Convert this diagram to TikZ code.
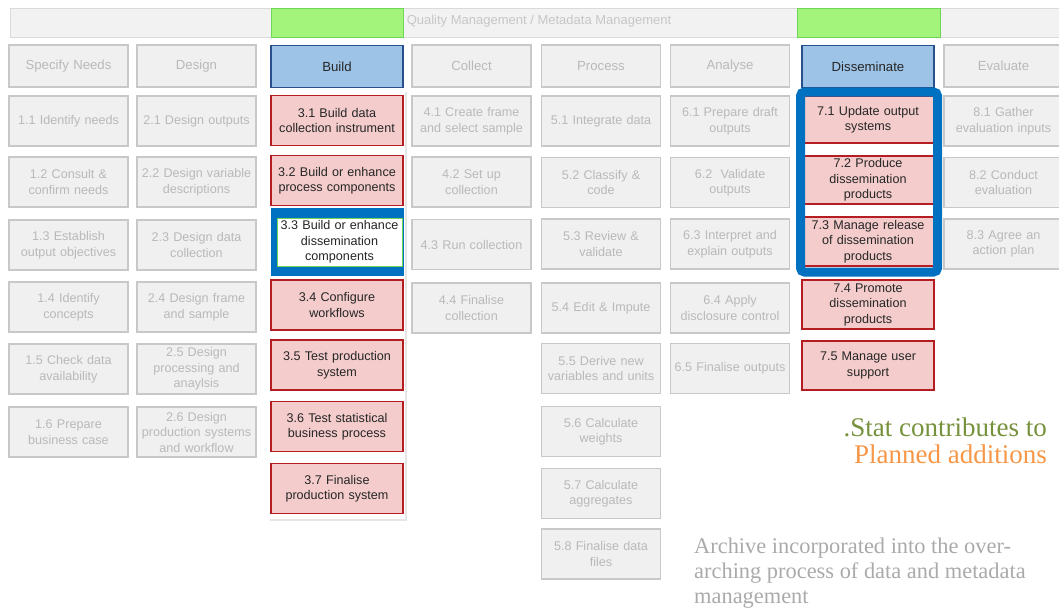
\documentclass[tikz,border=0pt]{standalone}
\usepackage{fontspec}
\setmainfont{Liberation Serif}
\setsansfont{Liberation Sans}
\usetikzlibrary{positioning}
\definecolor{boxfill}{RGB}{240,240,240}
\definecolor{boxline}{RGB}{200,200,198}
\definecolor{boxtext}{RGB}{185,185,185}
\definecolor{hdfill}{RGB}{157,195,230}
\definecolor{hdline}{RGB}{40,80,140}
\definecolor{pkfill}{RGB}{244,204,204}
\definecolor{pkline}{RGB}{180,30,35}
\definecolor{stblue}{RGB}{0,112,192}
\definecolor{bandfill}{RGB}{242,242,242}
\definecolor{bandline}{RGB}{218,218,218}
\definecolor{bandgreen}{RGB}{162,245,122}
\definecolor{bandgreenl}{RGB}{110,215,90}
\definecolor{dotgreen}{RGB}{118,146,60}
\definecolor{planorange}{RGB}{247,150,70}
\definecolor{archgray}{RGB}{170,170,170}
\tikzset{
    gbox/.style = {rectangle, line width=1.6pt, draw=boxline, fill=boxfill, text=boxtext, minimum width=119pt, minimum height=50pt, text width=118pt, align=center, inner sep=0pt, font=\sffamily\fontsize{12.6}{15.5}\selectfont},
    ghead/.style = {gbox, minimum height=42pt, font=\sffamily\fontsize{13.2}{15.5}\selectfont},
    bhead/.style = {ghead, draw=hdline, fill=hdfill, text=black!85, minimum width=132pt, text width=130pt},
    pbox/.style = {gbox, draw=pkline, fill=pkfill, text=black!85, minimum width=132pt, text width=130pt},
    hlbox/.style = {rectangle, fill=stblue, minimum width=133pt, minimum height=68pt, inner sep=0pt},
    wbox/.style = {gbox, draw=bandgreenl, line width=0.8pt, fill=white, text=black!85, minimum width=125pt, minimum height=48pt, text width=125pt},
    frame/.style = {rectangle, draw=stblue, line width=9pt, rounded corners=4pt, minimum width=137pt, minimum height=180pt, inner sep=0pt},
    band/.style = {rectangle, draw=bandline, line width=0.8pt, fill=bandfill, minimum width=1052pt, minimum height=29pt},
    bandg/.style = {rectangle, draw=bandgreenl, line width=0.6pt, fill=bandgreen, minimum height=29pt, inner sep=0pt},
    panelshade/.style = {draw=black!10, line width=1.5pt},
    note/.style = {inner sep=0pt, font=\fontsize{27}{29}\selectfont},
}

\begin{document}
\begin{tikzpicture}[x=1pt,y=-1pt]
\useasboundingbox (0,0) rectangle (1059,610);
%
\node[band] at (536,22.5) (qband) {};
\node[text=black!22, font=\sffamily\fontsize{13}{15}\selectfont] at (539,21) (qtext) {Quality Management / Metadata Management};
\node[bandg, minimum width=132pt] at (337,22.5) (qbuild) {};
\node[bandg, minimum width=143pt] at (868.5,22.5) (qdiss) {};
%
\draw[panelshade] (406,92) -- (406,520) -- (270,520);
%
\node[ghead] at (68.5, 66) (h1) {Specify Needs};
\node[ghead] at (196.5, 66) (h2) {Design};
\node[bhead] at (337, 66.5) (h3) {Build};
\node[ghead] at (471.5, 66) (h4) {Collect};
\node[ghead] at (601, 66) (h5) {Process};
\node[ghead] at (730, 66) (h6) {Analyse};
\node[bhead] at (868, 66.5) (h7) {Disseminate};
\node[ghead] at (1003.5, 66) (h8) {Evaluate};
%
\node[gbox] at (68.5, 121) (s11) {1.1 Identify needs};
\node[gbox] at (68.5, 182) (s12) {1.2 Consult \&\\confirm needs};
\node[gbox] at (68.5, 245) (s13) {1.3 Establish\\output objectives};
\node[gbox] at (68.5, 307) (s14) {1.4 Identify\\concepts};
\node[gbox] at (68.5, 369) (s15) {1.5 Check data\\availability};
\node[gbox] at (68.5, 432) (s16) {1.6 Prepare\\business case};
%
\node[gbox] at (196.5, 121) (s21) {2.1 Design outputs};
\node[gbox] at (196.5, 182) (s22) {2.2 Design variable\\descriptions};
\node[gbox] at (196.5, 245) (s23) {2.3 Design data\\collection};
\node[gbox] at (196.5, 307) (s24) {2.4 Design frame\\and sample};
\node[gbox] at (196.5, 369) (s25) {2.5 Design\\processing and\\anaylsis};
\node[gbox] at (196.5, 432) (s26) {2.6 Design\\production systems\\and workflow};
%
\node[pbox] at (337, 120.5) (s31) {3.1 Build data\\collection instrument};
\node[pbox] at (337, 180.5) (s32) {3.2 Build or enhance\\process components};
\node[hlbox] at (337.5, 242) (hl33) {};
\node[wbox] at (339.5, 242) (s33) {3.3 Build or enhance\\dissemination\\components};
\node[pbox] at (337, 305) (s34) {3.4 Configure\\workflows};
\node[pbox] at (337, 365) (s35) {3.5 Test production\\system};
\node[pbox] at (337, 426.5) (s36) {3.6 Test statistical\\business process};
\node[pbox] at (337, 488.5) (s37) {3.7 Finalise\\production system};
%
\node[gbox] at (471.5, 121) (s41) {4.1 Create frame\\and select sample};
\node[gbox] at (471.5, 182) (s42) {4.2 Set up\\collection};
\node[gbox] at (471.5, 244.5) (s43) {4.3 Run collection};
\node[gbox] at (471.5, 308) (s44) {4.4 Finalise\\collection};
%
\node[gbox] at (601, 121) (s51) {5.1 Integrate data};
\node[gbox] at (601, 182.5) (s52) {5.2 Classify \&\\code};
\node[gbox] at (601, 244) (s53) {5.3 Review \&\\validate};
\node[gbox] at (601, 308) (s54) {5.4 Edit \& Impute};
\node[gbox] at (601, 368.5) (s55) {5.5 Derive new\\variables and units};
\node[gbox] at (601, 431.5) (s56) {5.6 Calculate\\weights};
\node[gbox] at (601, 493.5) (s57) {5.7 Calculate\\aggregates};
\node[gbox] at (601, 554) (s58) {5.8 Finalise data\\files};
%
\node[gbox] at (730, 121) (s61) {6.1 Prepare draft\\outputs};
\node[gbox] at (730, 182.5) (s62) {6.2~ Validate\\outputs};
\node[gbox] at (730, 244) (s63) {6.3 Interpret and\\explain outputs};
\node[gbox] at (730, 308) (s64) {6.4 Apply\\disclosure control};
\node[gbox] at (730, 368.5) (s65) {6.5 Finalise outputs};
%
\node[pbox, minimum height=47pt] at (868, 119.5) (s71) {7.1 Update output\\systems};
\node[pbox, minimum height=48pt] at (868, 180) (s72) {7.2 Produce\\dissemination\\products};
\node[pbox, minimum height=49pt] at (868, 241.5) (s73) {7.3 Manage release\\of dissemination\\products};
\node[frame] at (869, 182) (fr7) {};
\node[pbox, minimum height=49pt] at (868, 304.5) (s74) {7.4 Promote\\dissemination\\products};
\node[pbox, minimum height=49pt] at (868, 365.5) (s75) {7.5 Manage user\\support};
%
\node[gbox] at (1003.5, 121) (s81) {8.1 Gather\\evaluation inputs};
\node[gbox] at (1003.5, 182.5) (s82) {8.2 Conduct\\evaluation};
\node[gbox] at (1003.5, 244) (s83) {8.3 Agree an\\action plan};
%
\node[note, text=dotgreen, anchor=base east] at (1047, 436) (stat) {.Stat contributes to};
\node[note, text=planorange, anchor=base east] at (1047, 463) (plan) {Planned additions};
\node[inner sep=0pt, text=archgray, anchor=north west, align=left, font=\fontsize{22.4}{25}\selectfont] at (694, 538) (arch) {Archive incorporated into the over-\\arching process of data and metadata\\management};

\end{tikzpicture}
\end{document}
